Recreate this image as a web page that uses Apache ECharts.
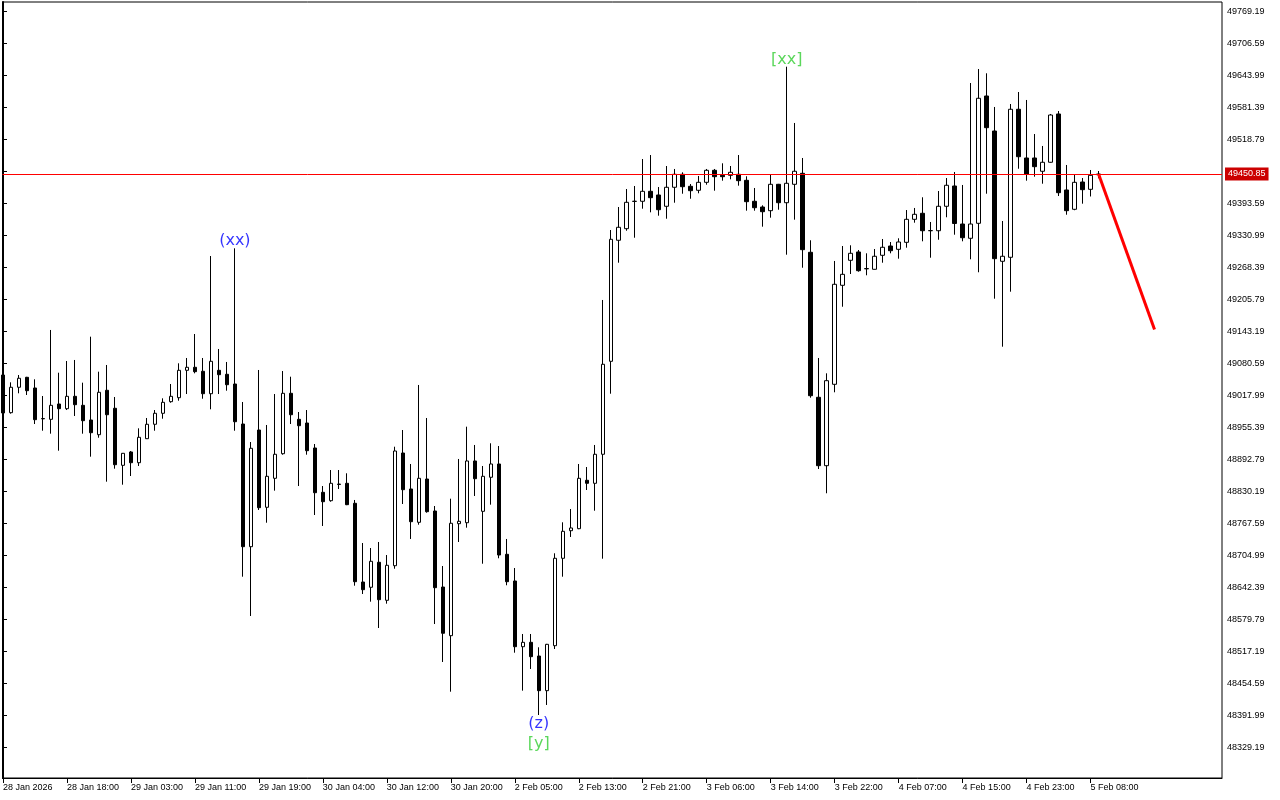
<!DOCTYPE html>
<html><head><meta charset="utf-8">
<script src="https://cdn.jsdelivr.net/npm/echarts@6/dist/echarts.min.js"></script>
<style>html,body{margin:0;padding:0;background:#fff}#c{width:1280px;height:800px}</style>
</head><body><div id="c"></div><script>
const categories = [
'28 Jan 10:00','28 Jan 11:00','28 Jan 12:00','28 Jan 13:00','28 Jan 14:00','28 Jan 15:00','28 Jan 16:00','28 Jan 17:00','28 Jan 18:00','28 Jan 19:00','28 Jan 20:00','28 Jan 21:00','28 Jan 22:00','28 Jan 23:00',
'29 Jan 01:00','29 Jan 02:00','29 Jan 03:00','29 Jan 04:00','29 Jan 05:00','29 Jan 06:00','29 Jan 07:00','29 Jan 08:00','29 Jan 09:00','29 Jan 10:00','29 Jan 11:00','29 Jan 12:00','29 Jan 13:00','29 Jan 14:00','29 Jan 15:00','29 Jan 16:00','29 Jan 17:00','29 Jan 18:00','29 Jan 19:00','29 Jan 20:00','29 Jan 21:00','29 Jan 22:00','29 Jan 23:00',
'30 Jan 01:00','30 Jan 02:00','30 Jan 03:00','30 Jan 04:00','30 Jan 05:00','30 Jan 06:00','30 Jan 07:00','30 Jan 08:00','30 Jan 09:00','30 Jan 10:00','30 Jan 11:00','30 Jan 12:00','30 Jan 13:00','30 Jan 14:00','30 Jan 15:00','30 Jan 16:00','30 Jan 17:00','30 Jan 18:00','30 Jan 19:00','30 Jan 20:00','30 Jan 21:00','30 Jan 22:00','30 Jan 23:00',
'2 Feb 01:00','2 Feb 02:00','2 Feb 03:00','2 Feb 04:00','2 Feb 05:00','2 Feb 06:00','2 Feb 07:00','2 Feb 08:00','2 Feb 09:00','2 Feb 10:00','2 Feb 11:00','2 Feb 12:00','2 Feb 13:00','2 Feb 14:00','2 Feb 15:00','2 Feb 16:00','2 Feb 17:00','2 Feb 18:00','2 Feb 19:00','2 Feb 20:00','2 Feb 21:00','2 Feb 22:00','2 Feb 23:00',
'3 Feb 01:00','3 Feb 02:00','3 Feb 03:00','3 Feb 04:00','3 Feb 05:00','3 Feb 06:00','3 Feb 07:00','3 Feb 08:00','3 Feb 09:00','3 Feb 10:00','3 Feb 11:00','3 Feb 12:00','3 Feb 13:00','3 Feb 14:00','3 Feb 15:00','3 Feb 16:00','3 Feb 17:00','3 Feb 18:00','3 Feb 19:00','3 Feb 20:00','3 Feb 21:00','3 Feb 22:00','3 Feb 23:00',
'4 Feb 01:00','4 Feb 02:00','4 Feb 03:00','4 Feb 04:00','4 Feb 05:00','4 Feb 06:00','4 Feb 07:00','4 Feb 08:00','4 Feb 09:00','4 Feb 10:00','4 Feb 11:00','4 Feb 12:00','4 Feb 13:00','4 Feb 14:00','4 Feb 15:00','4 Feb 16:00','4 Feb 17:00','4 Feb 18:00','4 Feb 19:00','4 Feb 20:00','4 Feb 21:00','4 Feb 22:00','4 Feb 23:00',
'5 Feb 01:00','5 Feb 02:00','5 Feb 03:00','5 Feb 04:00','5 Feb 05:00','5 Feb 06:00','5 Feb 07:00','5 Feb 08:00','5 Feb 09:00'
];
const futureCategories = ['5 Feb 10:00','5 Feb 11:00','5 Feb 12:00','5 Feb 13:00','5 Feb 14:00','5 Feb 15:00','5 Feb 16:00','5 Feb 17:00','5 Feb 18:00','5 Feb 19:00','5 Feb 20:00','5 Feb 21:00','5 Feb 22:00','5 Feb 23:00'];

const opens = [
49057.6,48983.9,49033.6,49053.1,49032.2,48972.4,48970.9,49000.9,48991.7,49015.9,48998.3,48969.6,48940.8,49027.7,
48992.5,48880.9,48907.0,48886.0,48933.0,48961.2,48982.7,49005.4,49013.2,49066.8,49072.7,49064.9,49021.0,49066.8,49059.0,49040.0,48961.7,48721.7,48950.0,48798.8,48855.5,48903.6,49021.8,
48970.9,48963.7,48914.8,48828.1,48811.7,48844.2,48845.7,48806.6,48652.6,48642.3,48691.2,48616.8,48684.5,48905.0,48834.6,48769.4,48854.1,48791.5,48642.8,48547.6,48766.7,48768.6,48889.4,
48790.9,48857.5,48883.5,48706.8,48654.6,48526.0,48534.6,48507.8,48440.0,48528.0,48699.0,48753.0,48756.9,48851.6,48845.7,48902.5,49084.4,49321.2,49343.9,49397.2,49397.5,49417.0,49409.8,
49387.7,49424.9,49450.3,49426.8,49419.0,49434.6,49458.1,49448.3,49448.3,49450.3,49438.5,49397.5,49386.3,49379.1,49430.7,49394.7,49430.7,49452.2,49297.7,49014.0,48880.2,49039.4,49233.1,
49282.0,49298.3,49265.3,49264.4,49291.8,49310.0,49303.5,49317.2,49362.2,49374.0,49339.9,49339.9,49387.7,49427.4,49353.0,49325.1,49354.4,49603.5,49535.0,49280.1,49287.9,49577.5,49482.2,
49482.2,49456.2,49473.8,49568.3,49419.6,49381.8,49435.2,49420.9,49449.5
];
const closes = [
48983.3,49033.6,49051.2,49026.9,48970.2,48971.9,48998.3,48991.7,49015.9,48999.5,48968.2,48944.7,49023.8,48979.9,
48882.1,48904.4,48886.0,48935.7,48961.2,48982.7,49004.2,49015.9,49066.8,49072.7,49064.1,49021.0,49084.4,49058.2,49038.6,48966.2,48721.7,48914.2,48798.0,48859.4,48902.5,49021.8,48979.9,
48958.4,48909.5,48827.3,48809.7,48845.7,48843.5,48803.9,48653.2,48637.6,48693.1,48618.0,48685.3,48908.9,48833.2,48770.6,48855.5,48790.2,48641.5,48552.3,48767.5,48771.4,48889.4,48854.7,
48859.4,48883.5,48705.4,48653.2,48526.0,48534.6,48506.5,48440.0,48530.7,48699.0,48751.8,48758.3,48855.5,48845.7,48902.5,49078.6,49323.1,49346.6,49395.5,49397.6,49417.0,49404.5,49381.0,
49424.9,49450.3,49426.0,49418.2,49434.6,49458.1,49445.6,49445.6,49454.2,49437.8,49396.7,49384.9,49377.1,49430.7,49394.7,49432.7,49456.2,49302.8,49017.1,48880.2,49046.5,49235.1,49254.6,
49295.7,49261.7,49265.9,49289.9,49307.5,49300.8,49317.8,49362.2,49372.0,49339.9,49340.2,49387.7,49428.8,49354.0,49326.2,49353.0,49599.0,49541.5,49285.2,49289.9,49577.5,49484.7,49450.3,
49465.2,49473.8,49566.3,49414.3,49379.1,49434.6,49420.2,49448.3,49450.85
];
const lows = [
48977.4,48982.0,49021.8,49018.5,48961.7,48948.6,48942.8,48909.5,48989.1,48977.4,48942.8,48897.8,48934.9,48848.9,
48874.3,48843.0,48860.0,48879.6,48932.5,48948.6,48972.1,49003.4,49007.3,49020.4,49060.9,49011.2,48990.5,49020.4,49026.9,48948.6,48663.0,48586.1,48793.5,48768.6,48831.3,48901.7,48961.7,
48840.4,48901.7,48783.7,48762.2,48809.7,48834.6,48803.0,48645.4,48629.1,48614.1,48562.6,48610.2,48678.6,48805.2,48736.8,48764.7,48788.2,48570.4,48496.1,48438.0,48730.9,48758.9,48820.9,
48688.4,48803.9,48699.0,48646.2,48514.3,48440.0,48482.4,48392.4,48412.0,48521.5,48663.0,48740.7,48756.0,48832.6,48792.1,48698.2,49021.0,49277.3,49339.9,49326.2,49383.0,49375.9,49369.3,
49363.4,49394.7,49412.3,49402.5,49413.1,49429.9,49418.2,49437.8,49440.5,49428.0,49379.1,49379.1,49347.8,49365.4,49381.0,49293.0,49361.5,49267.5,49013.2,48873.7,48826.2,49023.8,49191.2,
49255.2,49259.7,49252.7,49264.0,49277.3,49295.7,49285.2,49306.7,49355.6,49319.2,49287.1,49322.3,49366.2,49332.1,49319.2,49284.0,49258.6,49412.3,49206.9,49113.0,49220.6,49461.2,49437.8,
49445.6,49431.9,49473.0,49407.8,49371.2,49380.0,49392.8,49406.9,49442.5
];
const highs = [
49063.5,49043.3,49057.6,49054.0,49049.2,49016.5,49145.7,49062.1,49085.0,49087.0,49042.6,49132.6,49064.1,49077.2,
49014.6,48905.0,48908.9,48953.3,48973.5,48989.1,49012.0,49040.0,49080.5,49090.9,49137.8,49090.9,49290.4,49108.5,49083.1,49305.5,49004.8,48926.5,49067.4,48959.8,49020.4,49065.4,49054.3,
48985.2,48989.1,48922.6,48840.4,48871.7,48871.7,48865.3,48813.1,48728.9,48719.1,48730.9,48705.4,48917.3,48950.0,48883.5,49038.1,48973.5,48801.3,48683.9,48815.6,48893.3,48956.5,48920.7,
48879.6,48924.0,48918.7,48736.8,48680.0,48550.9,48550.9,48524.9,48531.5,48708.8,48769.4,48795.4,48883.5,48877.6,48920.7,49204.4,49341.3,49386.3,49421.5,49427.4,49480.2,49488.0,49425.4,
49466.5,49460.7,49454.2,49431.3,49447.0,49460.7,49460.7,49471.8,49466.5,49488.0,49446.4,49423.5,49389.6,49448.9,49431.5,49660.8,49550.7,49482.2,49321.2,49090.9,49060.9,49280.7,49310.0,
49311.4,49302.2,49295.7,49304.1,49323.7,49317.8,49325.1,49380.4,49384.4,49405.3,49357.0,49417.6,49443.0,49454.8,49429.4,49628.9,49656.3,49647.9,49582.0,49358.9,49587.8,49611.3,49595.7,
49529.1,49505.7,49568.3,49574.1,49468.5,49450.3,49443.0,49458.7,49456.7
];

const xTickCategories = ['28 Jan 10:00','28 Jan 18:00','29 Jan 03:00','29 Jan 11:00','29 Jan 19:00','30 Jan 04:00','30 Jan 12:00','30 Jan 20:00','2 Feb 05:00','2 Feb 13:00','2 Feb 21:00','3 Feb 06:00','3 Feb 14:00','3 Feb 22:00','4 Feb 07:00','4 Feb 15:00','4 Feb 23:00','5 Feb 08:00'];
const xTickLabels = ['28 Jan 2026','28 Jan 18:00','29 Jan 03:00','29 Jan 11:00','29 Jan 19:00','30 Jan 04:00','30 Jan 12:00','30 Jan 20:00','2 Feb 05:00','2 Feb 13:00','2 Feb 21:00','3 Feb 06:00','3 Feb 14:00','3 Feb 22:00','4 Feb 07:00','4 Feb 15:00','4 Feb 23:00','5 Feb 08:00'];
const yTickValues = [49769.19,49706.59,49643.99,49581.39,49518.79,49456.19,49393.59,49330.99,49268.39,49205.79,49143.19,49080.59,49017.99,48955.39,48892.79,48830.19,48767.59,48704.99,48642.39,48579.79,48517.19,48454.59,48391.99,48329.19];

const currentPrice = 49450.85;
const forecastCategories = ['5 Feb 09:00','5 Feb 16:00'];
const forecastPrices = [49450.85, 49146.6];

const waveTexts = ['(xx)','[xx]','(z)','[y]'];
const waveCategories = ['29 Jan 16:00','3 Feb 16:00','2 Feb 08:00','2 Feb 08:00'];
const waveAnchors = ['high','high','low','low'];

const allCats = categories.concat(futureCategories);
const idx = c => allCats.indexOf(c);
const candleData = categories.map((c,i)=>[idx(c), opens[i], closes[i], lows[i], highs[i]]);
const xTickPos = xTickCategories.map(idx);

const FONT = 'Liberation Sans';
const blue = '#0000FF', green = '#32CD32';
const belowCount = {};
const waveData = waveTexts.map((t,k)=>{
  const i = categories.indexOf(waveCategories[k]);
  const above = waveAnchors[k]==='high';
  let stack = 0;
  if(!above){ stack = belowCount[i]||0; belowCount[i]=stack+1; }
  return {
    value:[idx(waveCategories[k]), above?highs[i]:lows[i]],
    label:{show:true, formatter:t, position: above?'top':'bottom', distance: above?-1.5:(0+stack*20),
      color: t[0]==='('?blue:green, fontSize:16, fontFamily:'DejaVu Sans'}
  };
});

const chart = echarts.init(document.getElementById('c'), null, {renderer:'canvas'});
chart.setOption({
  animation:false,
  backgroundColor:'#fff',
  grid:{left:2, top:2, right:58, bottom:22, show:true, borderColor:'#000', borderWidth:1, backgroundColor:'#fff'},
  xAxis:{type:'value', min:-0.0625, max:152.4375, splitLine:{show:false},
    axisLine:{show:true, onZero:false, lineStyle:{color:'#000', width:1}},
    axisTick:{show:true, customValues:xTickPos, length:5, lineStyle:{color:'#000'}},
    axisLabel:{show:true, customValues:xTickPos, align:'left', margin:5, fontSize:9, color:'#000', fontFamily:FONT,
      formatter:v=>{const k=xTickPos.indexOf(Math.round(v)); return k>=0?xTickLabels[k]:'';}}},
  yAxis:{type:'value', position:'right', min:48269.14, max:49787.39, splitLine:{show:false},
    axisLine:{show:true, lineStyle:{color:'#000', width:2}},
    axisTick:{show:true, customValues:yTickValues, length:4, lineStyle:{color:'#000'}},
    axisLabel:{show:true, customValues:yTickValues, margin:5, fontSize:9, color:'#000', fontFamily:FONT,
      formatter:v=>v.toFixed(2)}},
  series:[
    {type:'candlestick', data:candleData, encode:{x:0, y:[1,2,3,4]}, barWidth:4, clip:false,
      itemStyle:{color:'#fff', color0:'#000', borderColor:'#000', borderColor0:'#000', borderColorDoji:'#000', borderWidth:1},
      emphasis:{disabled:true},
      markLine:{silent:true, symbol:['none','none'], animation:false,
        data:[{yAxis:currentPrice}],
        lineStyle:{color:'#FF0000', width:1, type:'solid'},
        label:{show:true, position:'end', distance:3, formatter:currentPrice.toFixed(2), color:'#fff',
          backgroundColor:'#CC0000', padding:[2,3,2,3], fontSize:9, fontFamily:FONT}}},
    {type:'line', data:forecastCategories.map((c,k)=>[idx(c), forecastPrices[k]]), symbol:'none',
      lineStyle:{color:'#FF0000', width:3}, z:5, silent:true},
    {type:'scatter', data:waveData, symbolSize:1, itemStyle:{color:'rgba(0,0,0,0)'}, silent:true, z:6}
  ]
});
</script></body></html>
